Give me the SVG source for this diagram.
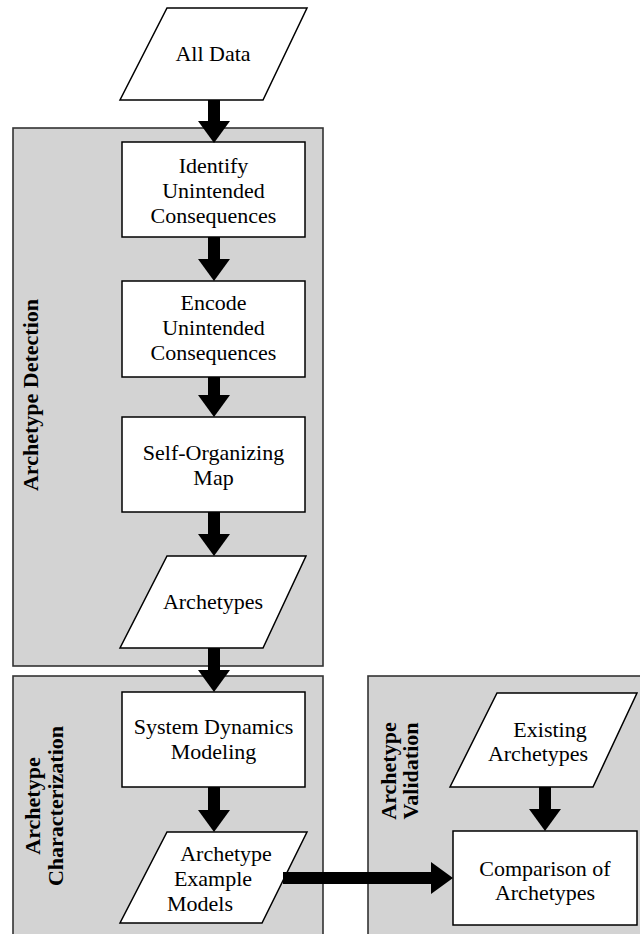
<svg xmlns="http://www.w3.org/2000/svg" width="640" height="934" viewBox="0 0 640 934">
  <style>
    .lane { fill: #d3d3d3; stroke: #333333; stroke-width: 1.6; }
    .box { fill: #ffffff; stroke: #000000; stroke-width: 1.5; }
    .txt { font-family: "Liberation Serif", "Times New Roman", serif; font-size: 22px; fill: #000000; text-anchor: middle; }
    .lbl { font-family: "Liberation Serif", "Times New Roman", serif; font-size: 22px; font-weight: bold; fill: #000000; text-anchor: middle; }
    .conn { stroke: #000000; stroke-width: 12; fill: none; marker-end: url(#head); }
  </style>
  <defs>
    <marker id="head" markerUnits="userSpaceOnUse" markerWidth="22" markerHeight="32" refX="0" refY="16" orient="auto" overflow="visible">
      <path d="M0,0 L22,16 L0,32 Z" fill="#000000"/>
    </marker>
  </defs>

  <rect width="640" height="934" fill="#ffffff"/>

  <!-- swimlanes -->
  <g id="lane-detection">
    <rect class="lane" x="13" y="128" width="310" height="538"/>
    <text class="lbl" transform="translate(38,395) rotate(-90)">Archetype Detection</text>
  </g>
  <g id="lane-characterization">
    <rect class="lane" x="13" y="676" width="310" height="280"/>
    <text class="lbl" transform="translate(39.5,806) rotate(-90)">Archetype</text>
    <text class="lbl" transform="translate(63,806) rotate(-90)">Characterization</text>
  </g>
  <g id="lane-validation">
    <rect class="lane" x="368" y="676" width="290" height="280"/>
    <text class="lbl" transform="translate(396,771) rotate(-90)">Archetype</text>
    <text class="lbl" transform="translate(418,771) rotate(-90)">Validation</text>
  </g>

  <!-- nodes -->
  <g id="all-data">
    <polygon class="box" points="167,8 307,8 263,100 120,100"/>
    <text class="txt" x="213" y="61">All Data</text>
  </g>
  <g id="identify">
    <rect class="box" x="122" y="142" width="183" height="95"/>
    <text class="txt" x="213.5" y="173">Identify</text>
    <text class="txt" x="213.5" y="198">Unintended</text>
    <text class="txt" x="213.5" y="223">Consequences</text>
  </g>
  <g id="encode">
    <rect class="box" x="122" y="281" width="183" height="96"/>
    <text class="txt" x="213.5" y="310">Encode</text>
    <text class="txt" x="213.5" y="335">Unintended</text>
    <text class="txt" x="213.5" y="360">Consequences</text>
  </g>
  <g id="som">
    <rect class="box" x="122" y="417" width="183" height="95"/>
    <text class="txt" x="213.5" y="460">Self-Organizing</text>
    <text class="txt" x="213.5" y="485">Map</text>
  </g>
  <g id="archetypes">
    <polygon class="box" points="167,556 306,556 263,648 120,648"/>
    <text class="txt" x="213" y="609">Archetypes</text>
  </g>
  <g id="system-dynamics">
    <rect class="box" x="122" y="692" width="183" height="95"/>
    <text class="txt" x="213.5" y="734">System Dynamics</text>
    <text class="txt" x="213.5" y="759">Modeling</text>
  </g>
  <g id="example-models">
    <polygon class="box" points="167,832 307,832 262,923 120,923"/>
    <text class="txt" x="226" y="861">Archetype</text>
    <text class="txt" x="213" y="886">Example</text>
    <text class="txt" x="200" y="911">Models</text>
  </g>
  <g id="existing-archetypes">
    <polygon class="box" points="497,693 637,693 593,787 450,787"/>
    <text class="txt" x="550" y="737">Existing</text>
    <text class="txt" x="538" y="761">Archetypes</text>
  </g>
  <g id="comparison">
    <rect class="box" x="453" y="831" width="184" height="94"/>
    <text class="txt" x="545" y="876">Comparison of</text>
    <text class="txt" x="545" y="900">Archetypes</text>
  </g>

  <!-- connectors -->
  <g id="connectors">
    <line class="conn" x1="214" y1="100" x2="214" y2="121"/>
    <line class="conn" x1="214" y1="237" x2="214" y2="259"/>
    <line class="conn" x1="214" y1="377" x2="214" y2="395"/>
    <line class="conn" x1="214" y1="512" x2="214" y2="534"/>
    <line class="conn" x1="214" y1="648" x2="214" y2="670"/>
    <line class="conn" x1="214" y1="787" x2="214" y2="810"/>
    <line class="conn" x1="283" y1="878" x2="431" y2="878"/>
    <line class="conn" x1="545" y1="787" x2="545" y2="809"/>
  </g>
</svg>
